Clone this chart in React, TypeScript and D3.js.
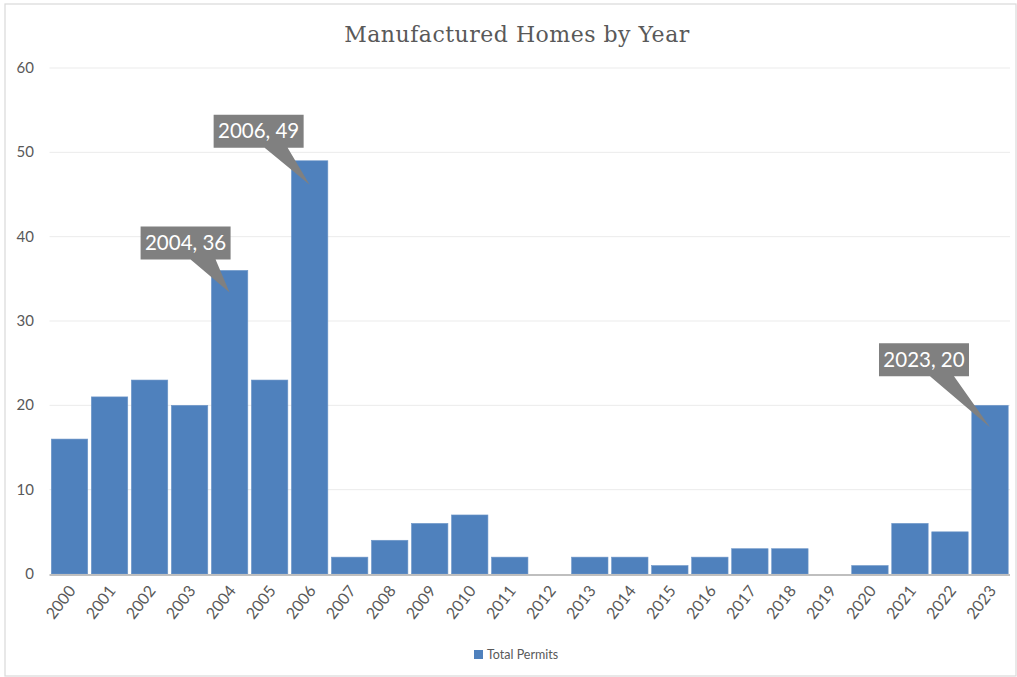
import React from "react";
import * as d3 from "d3";

const years = ["2000","2001","2002","2003","2004","2005","2006","2007","2008","2009","2010","2011","2012","2013","2014","2015","2016","2017","2018","2019","2020","2021","2022","2023"];
const permits = [16,21,23,20,36,23,49,2,4,6,7,2,0,2,2,1,2,3,3,0,1,6,5,20];
const yTicks = [0,10,20,30,40,50,60];
const callouts = [
  { year: "2004", dx: -44, dy: -33, tipDown: 22, base: [5, 30] },
  { year: "2006", dx: -51, dy: -37, tipDown: 24, base: [6, 29] },
  { year: "2023", dx: -66, dy: -51, tipDown: 22, base: [6, 30] },
];

const W = 1017, H = 677;
const left = 49.5, right = 1010, top = 68, bottom = 574;

export default function App() {
  const x = d3.scaleBand<string>().domain(years).range([left, right]).paddingInner(0.09).paddingOuter(0.045);
  const y = d3.scaleLinear().domain([0, 60]).range([bottom, top]);
  const textColor = "#595959";
  const bodyFont = "Lato, 'Open Sans', sans-serif";
  return (
    <svg width={W} height={H} style={{ position: "absolute", left: 0, top: 0, background: "#fff" }}>
      <rect x={5} y={4} width={1011} height={672} fill="#fff" stroke="#d9d9d9" strokeWidth={1.2} />
      <text x={517} y={42} textAnchor="middle" fontFamily="'DejaVu Serif', 'Liberation Serif', serif" fontSize={22} fill={textColor} letterSpacing={0.5}>
        Manufactured Homes by Year
      </text>
      {yTicks.map((t) => (
        <g key={t}>
          {t > 0 && <line x1={left} x2={right} y1={y(t)} y2={y(t)} stroke="#ebebeb" strokeWidth={1} />}
          <text x={34} y={y(t) + 5} textAnchor="end" fontFamily={bodyFont} fontSize={15} fill={textColor}>{t}</text>
        </g>
      ))}
      {years.map((yr, i) => (
        <rect key={yr} x={x(yr)!} y={y(permits[i])} width={x.bandwidth()} height={bottom - y(permits[i])} fill="#4f81bd" stroke="#6f97c8" strokeWidth={0.6} />
      ))}
      <line x1={left} x2={right} y1={bottom + 1} y2={bottom + 1} stroke="#bfbfbf" strokeWidth={2} />
      {years.map((yr) => {
        const cx = x(yr)! + x.bandwidth() / 2 + 7;
        return (
          <text key={yr} transform={`translate(${cx},${591}) rotate(-52)`} textAnchor="end" fontFamily={bodyFont} fontSize={16} fill={textColor}>{yr}</text>
        );
      })}
      {callouts.map((c) => {
        const i = years.indexOf(c.year);
        const v = permits[i];
        const tx = x(c.year)! + x.bandwidth() / 2;
        const ty = y(v) + c.tipDown;
        const bw = 90, bh = 33;
        const bx = tx + c.dx - bw / 2;
        const by = ty + c.dy - bh;
        const b0 = tx + c.dx + c.base[0];
        const b1 = tx + c.dx + c.base[1];
        const path = `M${bx},${by}H${bx + bw}V${by + bh}H${b1}L${tx},${ty}L${b0},${by + bh}H${bx}Z`;
        return (
          <g key={c.year}>
            <path d={path} fill="#808080" />
            <text x={bx + bw / 2} y={by + bh / 2 + 7} textAnchor="middle" fontFamily={bodyFont} fontSize={20.5} fill="#fff">{`${c.year}, ${v}`}</text>
          </g>
        );
      })}
      <rect x={474} y={650} width={9} height={9} fill="#4f81bd" />
      <text x={487} y={659} fontFamily={bodyFont} fontSize={12.5} fill={textColor}>Total Permits</text>
    </svg>
  );
}
